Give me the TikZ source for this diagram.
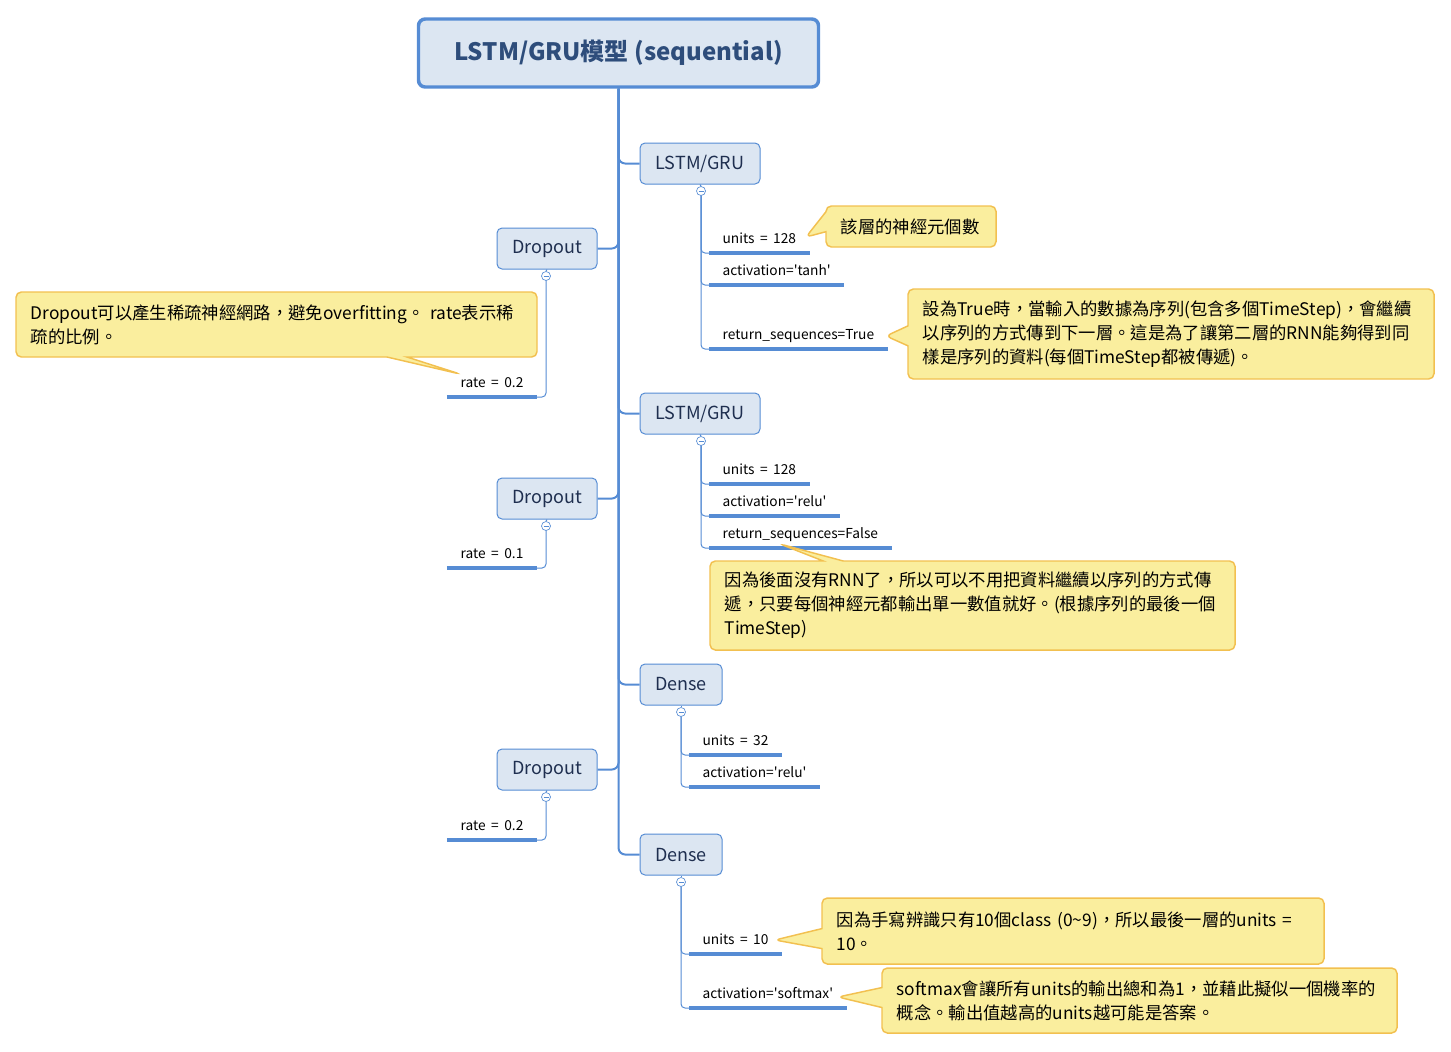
\documentclass[tikz,border=0pt]{standalone}
\usepackage{fontspec}
\setmainfont{Noto Sans CJK TC}
\newfontfamily\paramfont{Noto Sans CJK TC}[WordSpace=1.8]
\usepackage{tikz}
\usetikzlibrary{positioning}
\usetikzlibrary{shapes.callouts}
\definecolor{trunkblue}{RGB}{86,140,212}
\definecolor{boxfill}{RGB}{220,230,242}
\definecolor{boxtext}{RGB}{31,47,80}
\definecolor{titletext}{RGB}{46,77,123}
\definecolor{notefill}{RGB}{250,238,158}
\definecolor{noteline}{RGB}{242,192,80}
\newcommand{\q}{\textquotesingle}

\begin{document}
\begin{tikzpicture}[x=0.75pt,y=-0.75pt,
  title/.style={draw=trunkblue,fill=boxfill,line width=2.6pt,rounded corners=5pt,minimum width=300pt,minimum height=51pt,text=titletext,font=\fontsize{18}{22}\selectfont\bfseries},
  layer/.style={draw=trunkblue,fill=boxfill,line width=0.75pt,rounded corners=3.75pt,minimum height=30.75pt,text=boxtext,font=\fontsize{13.5}{16}\selectfont},
  fold/.style={circle,draw=trunkblue,fill=white,line width=0.5pt,inner sep=0pt,minimum size=6.75pt,
    path picture={\draw[trunkblue,line width=0.5pt] ([xshift=1.5pt]path picture bounding box.west) -- ([xshift=-1.5pt]path picture bounding box.east);}},
  param/.style={inner xsep=10pt,inner ysep=2.25pt,text height=8pt,text depth=4.5pt,font=\paramfont\fontsize{10.3}{12}\selectfont},
  uline/.style={trunkblue,line width=2.5pt},
  trunk/.style={trunkblue,line width=1.5pt,rounded corners=5pt},
  twig/.style={trunkblue,line width=0.75pt,rounded corners=3pt},
  note/.style={rectangle callout,draw=noteline,fill=notefill,line width=1.1pt,rounded corners=4pt,callout pointer width=15pt,
    inner xsep=11pt,align=left,font=\fontsize{13}{18}\selectfont}]

\useasboundingbox (0,0) rectangle (1451,1051);

\node[title] (title) at (618.5,53) {LSTM/GRU模型 (sequential)};

\node[layer,minimum width=90pt] (lstmA) at (700,163.5) {LSTM/GRU};
\node[layer,minimum width=90pt] (lstmB) at (700,413.5) {LSTM/GRU};
\node[layer,minimum width=61.5pt] (denseA) at (681,684.5) {Dense};
\node[layer,minimum width=61.5pt] (denseB) at (681,854.5) {Dense};
\node[layer,minimum width=75pt] (dropA) at (547,248.5) {Dropout};
\node[layer,minimum width=75pt] (dropB) at (547,498.5) {Dropout};
\node[layer,minimum width=75pt] (dropC) at (547,769.5) {Dropout};

\draw[trunk] (title.south) |- (lstmA.west);
\draw[trunk] (title.south) |- (lstmB.west);
\draw[trunk] (title.south) |- (denseA.west);
\draw[trunk] (title.south) |- (denseB.west);
\draw[trunk] (title.south) |- (dropA.east);
\draw[trunk] (title.south) |- (dropB.east);
\draw[trunk] (title.south) |- (dropC.east);

\node[fold] (flstmA) at (701,191) {};
\node[fold] (flstmB) at (701,441) {};
\node[fold] (fdenseA) at (681,712) {};
\node[fold] (fdenseB) at (681,882) {};
\node[fold] (fdropA) at (546,276) {};
\node[fold] (fdropB) at (546,526) {};
\node[fold] (fdropC) at (546,797) {};

\foreach \lay in {lstmA,lstmB,denseA,denseB,dropA,dropB,dropC}
  \draw[twig] (\lay.south) -- (f\lay.north);

% parameters
\node[param,anchor=south west] (pA1) at (709,253) {units = 128};
\node[param,anchor=south west] (pA2) at (709,285) {activation=\q tanh\q};
\node[param,anchor=south west] (pA3) at (709,349) {return\_sequences=True};
\node[param,anchor=south west] (pB1) at (709,484) {units = 128};
\node[param,anchor=south west] (pB2) at (709,516) {activation=\q relu\q};
\node[param,anchor=south west] (pB3) at (709,548) {return\_sequences=False};
\node[param,anchor=south west] (pC1) at (689,755) {units = 32};
\node[param,anchor=south west] (pC2) at (689,787) {activation=\q relu\q};
\node[param,anchor=south west] (pD1) at (689,954) {units = 10};
\node[param,anchor=south west] (pD2) at (689,1008) {activation=\q softmax\q};
\node[param,anchor=south east] (rA) at (537,397) {rate = 0.2};
\node[param,anchor=south east] (rB) at (537,568) {rate = 0.1};
\node[param,anchor=south east] (rC) at (537,840) {rate = 0.2};

\foreach \f/\p in {lstmA/pA1,lstmA/pA2,lstmA/pA3,lstmB/pB1,lstmB/pB2,lstmB/pB3,denseA/pC1,denseA/pC2,denseB/pD1,denseB/pD2}{
  \draw[twig] (f\f.south) |- (\p.south west);
  \draw[uline] (\p.south west) -- (\p.south east);
}
\foreach \f/\p in {dropA/rA,dropB/rB,dropC/rC}{
  \draw[twig] (f\f.south) |- (\p.south east);
  \draw[uline] (\p.south west) -- (\p.south east);
}

% notes
\coordinate (tipUnits) at (806,237);
\coordinate (tipDrop) at (460,374);
\coordinate (tipSeq) at (886,336);
\coordinate (tipLast) at (780,544);
\coordinate (tipTen) at (775,940);
\coordinate (tipSoft) at (838,997);

\node[note,minimum width=127.5pt,minimum height=30.75pt,text width=105.5pt,callout absolute pointer={(tipUnits)}] (noteUnits) at (911,226.5) {該層的神經元個數};
\node[note,minimum width=390.75pt,minimum height=48.75pt,text width=368.75pt,callout absolute pointer={(tipDrop)}] (noteDrop) at (276.5,324.5)
  {Dropout可以產生稀疏神經網路，避免overfitting。 rate表示稀\\疏的比例。};
\node[note,minimum width=394.5pt,minimum height=67.5pt,text width=372.5pt,callout absolute pointer={(tipSeq)}] (noteSeq) at (1171,334)
  {設為True時，當輸入的數據為序列(包含多個TimeStep)，會繼續\\以序列的方式傳到下一層。這是為了讓第二層的RNN能夠得到同\\樣是序列的資料(每個TimeStep都被傳遞)。};
\node[note,minimum width=393.75pt,minimum height=66.75pt,text width=371.75pt,callout absolute pointer={(tipLast)}] (noteLast) at (972.5,605.5)
  {因為後面沒有RNN了，所以可以不用把資料繼續以序列的方式傳\\遞，只要每個神經元都輸出單一數值就好。(根據序列的最後一個\\TimeStep)};
\node[note,minimum width=376.5pt,minimum height=49.5pt,text width=354.5pt,callout absolute pointer={(tipTen)}] (noteTen) at (1073,931)
  {因為手寫辨識只有10個class (0\textasciitilde 9)，所以最後一層的units =\\10。};
\node[note,minimum width=386.25pt,minimum height=48.75pt,text width=364.25pt,callout absolute pointer={(tipSoft)}] (noteSoft) at (1139.5,1000.5)
  {softmax會讓所有units的輸出總和為1，並藉此擬似一個機率的\\概念。輸出值越高的units越可能是答案。};
\end{tikzpicture}
\end{document}
